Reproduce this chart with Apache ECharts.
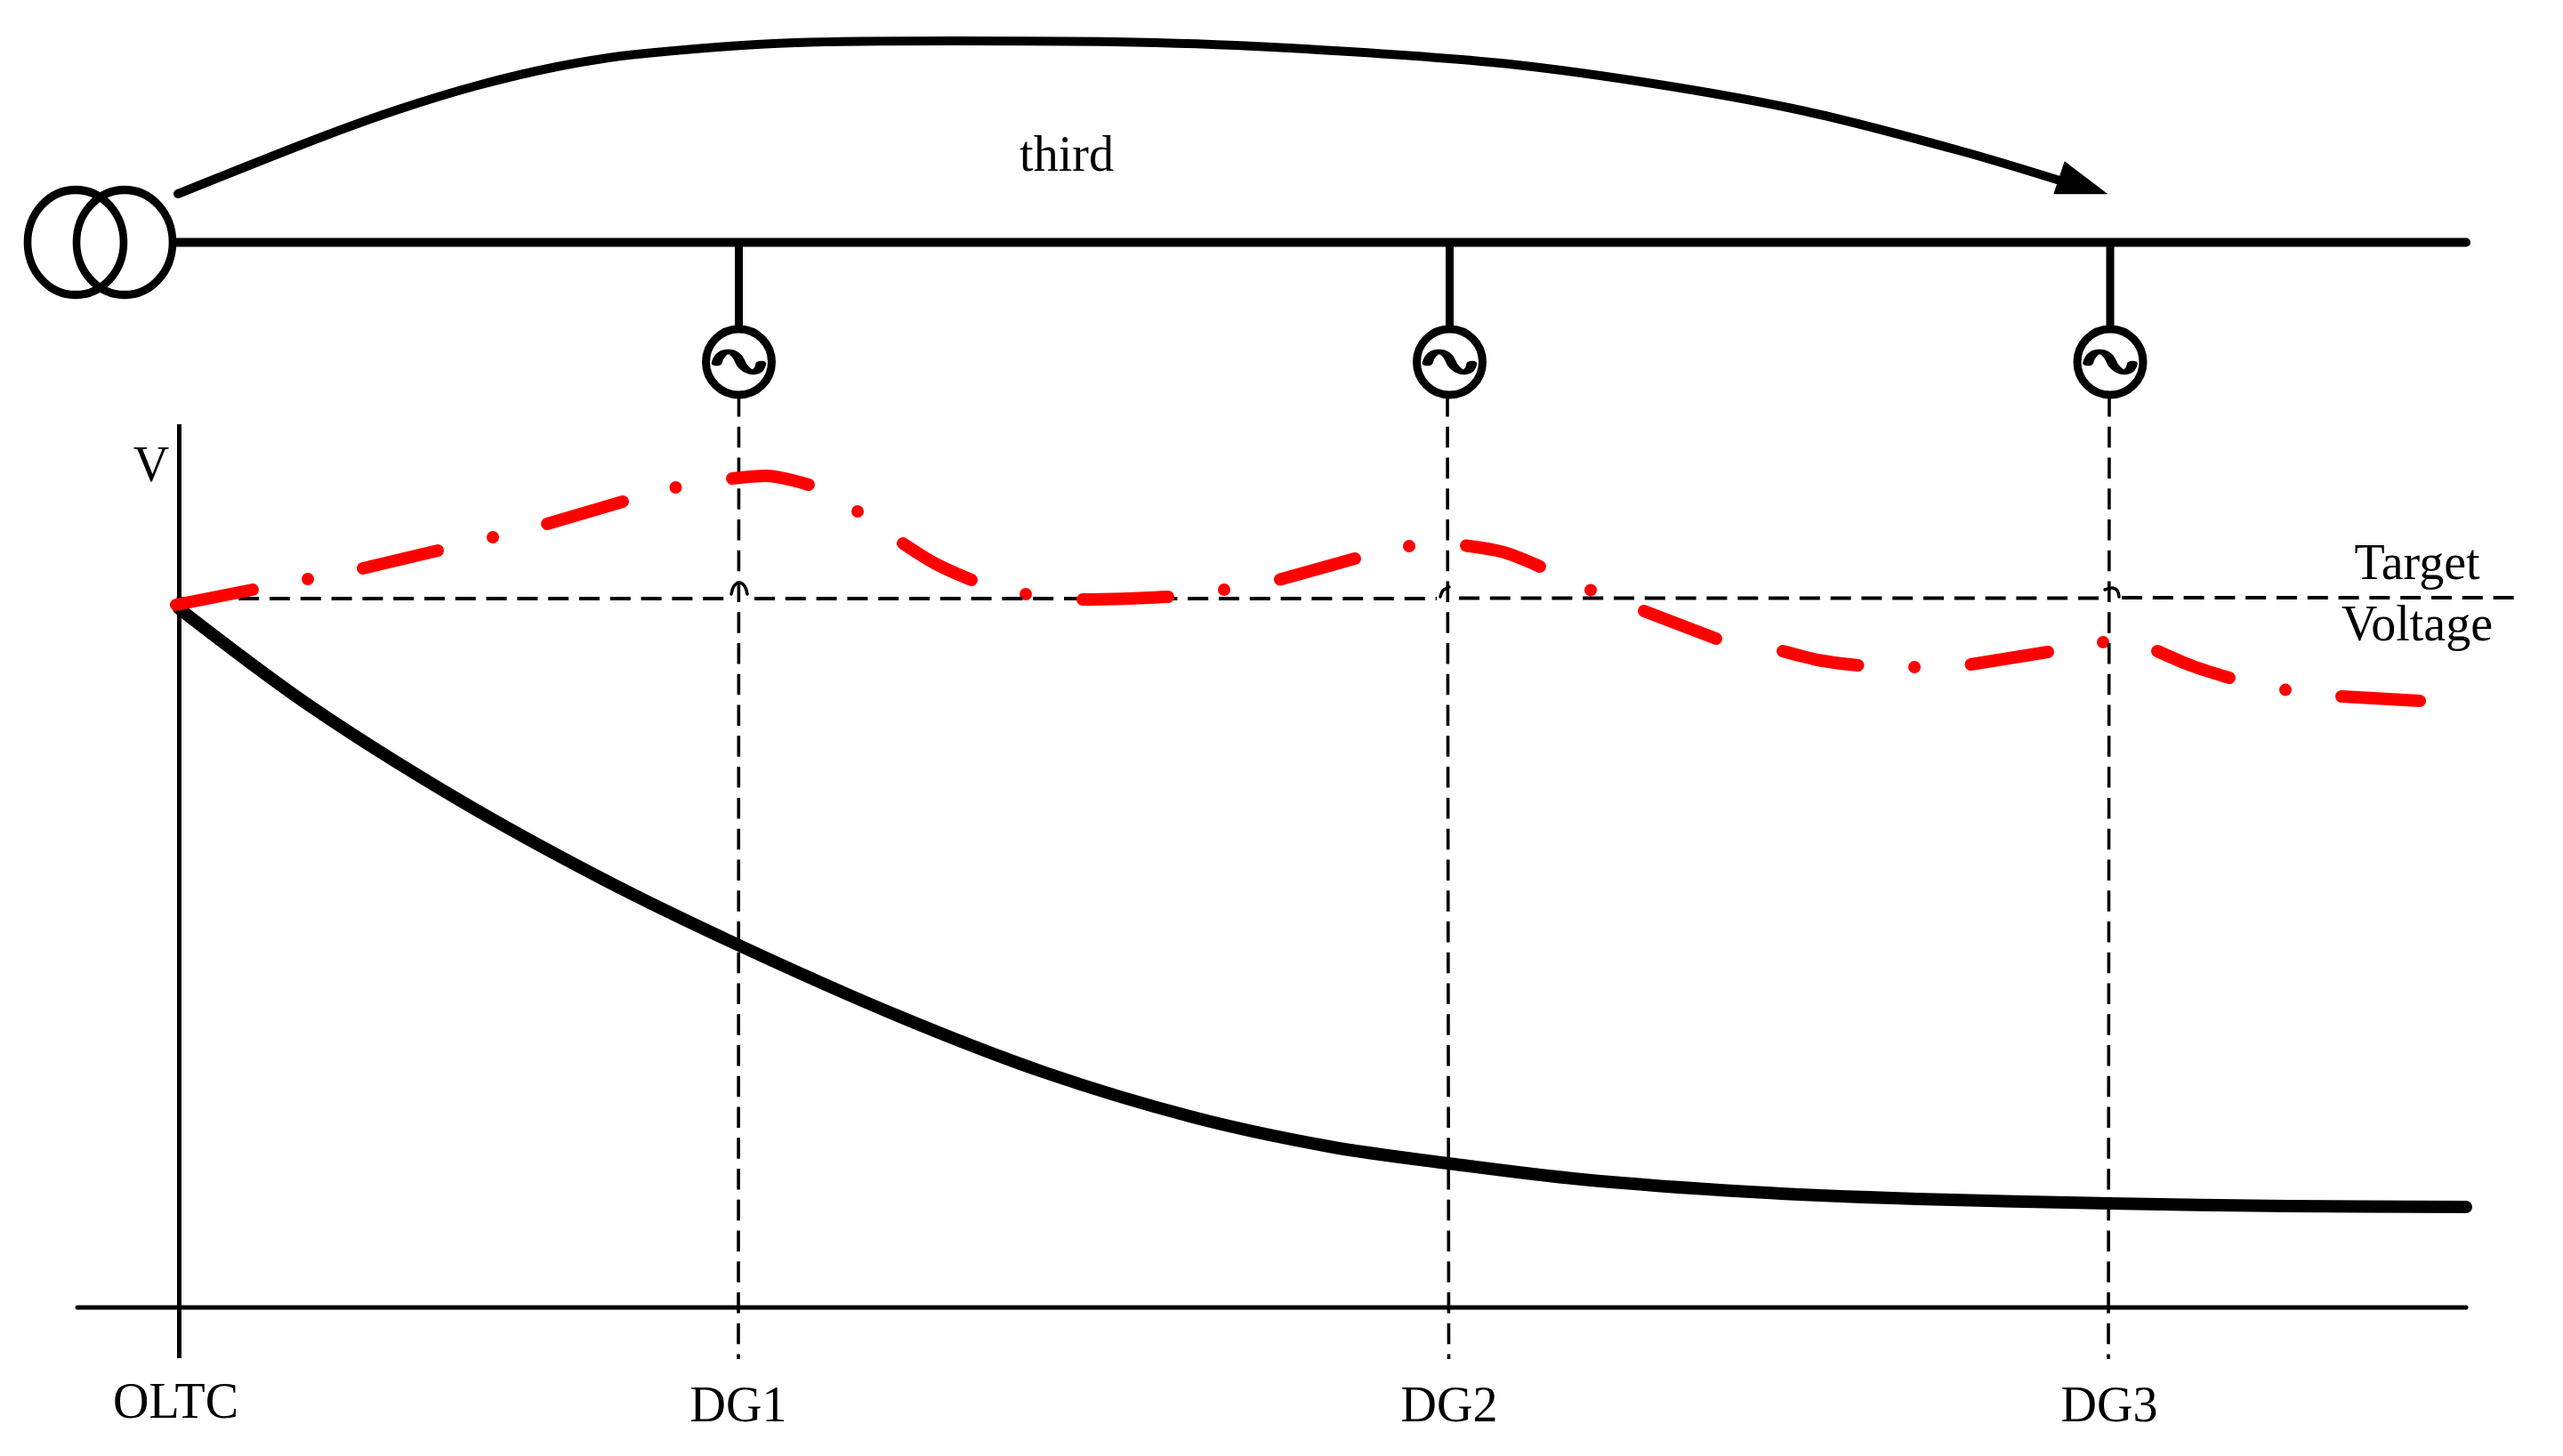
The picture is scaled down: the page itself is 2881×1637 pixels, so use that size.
<!DOCTYPE html>
<html>
<head>
<meta charset="utf-8">
<title>OLTC voltage profile</title>
<style>
  html, body { margin: 0; padding: 0; background: #fff; }
  #chart { width: 2881px; height: 1637px; }
</style>
<script src="https://cdn.jsdelivr.net/npm/echarts@6/dist/echarts.min.js"></script>
</head>
<body>
<div id="chart"></div>
<script>
var flowArc = [[200, 218], [359, 155], [448, 123], [537, 96], [626, 75], [716, 61], [894, 48],
  [1073, 46], [1251, 47], [1430, 53], [1676, 70], [1852, 93], [2029, 125], [2205, 170], [2325, 206]];
var arrowTip = [2342, 209];
var busLine = [[199, 272.5], [2772, 272.5]];
var dgStubs = [
  [[830.5, 272], [830.5, 368]],
  [[1629.5, 272], [1629.5, 368]],
  [[2372, 272], [2372, 368]]
];
var transformerCoils = [[85, 272.5], [140, 272.5]];
var dgCentres = [[830.5, 407], [1629.5, 407], [2372, 407]];

var vAxisLine = [[201.5, 477], [201.5, 1527]];
var feederAxisLine = [[87, 1470], [2772, 1470]];
var dgGuides = [
  [[830.5, 445], [830, 1528]],
  [[1627, 445], [1628.5, 1528]],
  [[2371, 445], [2370, 1528]]
];
var targetLine = [
  [[198.6, 673], [815, 673]],
  [[848, 673], [1615, 673]],
  [[1640, 672.5], [2362, 672.5]],
  [[2385, 672], [2830, 672]]
];
var guideHops = [
  [[822, 668], [825, 659], [831, 655], [837, 659], [840, 668]],
  [[1619, 671], [1622, 664], [1629, 660]],
  [[2366, 663], [2374, 661], [2380, 664], [2382, 671]]
];

// voltage without DG
var voltageBase = [[201, 684], [346, 792], [512, 897], [677, 988], [831, 1063],
  [1009, 1142], [1175, 1206], [1341, 1256], [1494, 1289],
  [1628, 1308], [1778, 1326], [1967, 1340], [2155, 1348], [2371, 1353], [2571, 1356], [2772, 1357]];

// voltage with DG, dash-dot: each dash and each dot as read
var voltageDashes = [
  [[198, 680], [284, 663]],
  [[408, 639], [492, 619]],
  [[615, 589], [700, 564]],
  [[823, 538], [861, 535], [909, 545]],
  [[1015, 611], [1052, 634], [1092, 652]],
  [[1217, 674], [1266, 673], [1313, 671]],
  [[1439, 651.5], [1523, 628]],
  [[1648, 613.5], [1689, 620.6], [1731, 637]],
  [[1848, 687], [1929, 718]],
  [[2004, 732], [2046, 742.5], [2088.5, 748]],
  [[2215.4, 747], [2302, 733]],
  [[2425, 732], [2465, 749], [2506, 762]],
  [[2632, 783], [2720, 788]]
];
var voltageDots = [[346, 651], [554, 604], [759.5, 548], [964, 575], [1153, 668], [1376, 663], [1584, 614], [1788, 663.4],
  [2152, 750], [2364, 722], [2569, 775.6]];

var labelNames = ['third', 'V', 'Target', 'Voltage', 'OLTC', 'DG1', 'DG2', 'DG3'];
var labelSpots = [[1199, 177], [170, 526], [2717, 636], [2717, 705], [197.5, 1579], [830, 1583], [1629, 1583], [2371, 1583]];

var ink = '#000000';
var red = '#ff0000';
var serif = '"Liberation Serif", "Times New Roman", serif';

function joinSegments(segments) {
  var out = [];
  segments.forEach(function(seg, i) {
    if (i > 0) out.push(['-', '-']);
    out = out.concat(seg);
  });
  return out;
}

function lineSeries(data, width, color, extra) {
  var s = {
    type: 'line',
    data: data,
    symbol: 'none',
    silent: true,
    animation: false,
    lineStyle: { width: width, color: color, opacity: 1, cap: 'round', join: 'round' }
  };
  for (var k in extra) {
    if (k === 'dash') s.lineStyle.type = extra[k];
    else if (k === 'cap') s.lineStyle.cap = extra[k];
    else s[k] = extra[k];
  }
  return s;
}

var chart = echarts.init(document.getElementById('chart'), null, { renderer: 'canvas' });

chart.setOption({
  animation: false,
  backgroundColor: '#ffffff',
  tooltip: { show: false },
  grid: { left: 0, right: 0, top: 0, bottom: 0 },
  xAxis: { type: 'value', min: 0, max: 2881, show: false },
  yAxis: { type: 'value', min: 0, max: 1637, inverse: true, show: false },
  series: [
    lineSeries(joinSegments(dgGuides), 3.6, ink, { dash: [23.5, 11.26], cap: 'butt' }),
    lineSeries(joinSegments(targetLine), 4, ink, { dash: [23, 11.8], cap: 'butt' }),
    lineSeries(joinSegments(guideHops), 3.5, ink, { smooth: 0.33 }),
    lineSeries(vAxisLine, 5, ink, { cap: 'butt' }),
    lineSeries(feederAxisLine, 5, ink, {}),
    lineSeries(busLine, 10, ink, {}),
    lineSeries(joinSegments(dgStubs), 9, ink, { cap: 'butt' }),
    lineSeries(flowArc, 10, ink, { smooth: 0.33 }),
    lineSeries(voltageBase, 14, ink, { smooth: 0.33 }),
    lineSeries(joinSegments(voltageDashes), 14, red, { smooth: 0.33 }),
    {
      type: 'scatter',
      data: voltageDots,
      symbol: 'circle',
      symbolSize: 14,
      silent: true,
      itemStyle: { color: red, opacity: 1 }
    },
    {
      type: 'scatter',
      data: [arrowTip],
      symbol: 'triangle',
      symbolSize: [39, 58],
      symbolRotate: -108.6,
      silent: true,
      itemStyle: { color: ink, opacity: 1 }
    },
    {
      type: 'scatter',
      data: transformerCoils,
      symbol: 'circle',
      symbolSize: [108, 118],
      silent: true,
      itemStyle: { color: 'transparent', borderColor: ink, borderWidth: 9, opacity: 1 }
    },
    {
      type: 'scatter',
      data: dgCentres,
      symbol: 'circle',
      symbolSize: 74,
      silent: true,
      itemStyle: { color: '#ffffff', borderColor: ink, borderWidth: 9, opacity: 1 }
    },
    {
      type: 'scatter',
      data: dgCentres,
      symbol: 'path://M0,20 C5,-5 25,-5 32,15 C38,35 58,45 62,20',
      symbolSize: [50, 23],
      silent: true,
      z: 5,
      itemStyle: { color: 'transparent', borderColor: ink, borderWidth: 8, borderCap: 'round', opacity: 1 }
    },
    {
      type: 'scatter',
      data: labelSpots.map(function(p, i) { return { value: p, name: labelNames[i] }; }),
      symbolSize: 1,
      silent: true,
      itemStyle: { color: 'transparent', opacity: 1 },
      label: {
        show: true,
        position: 'inside',
        formatter: '{b}',
        color: ink,
        opacity: 1,
        fontFamily: serif,
        fontSize: 56
      }
    }
  ]
});

window.addEventListener('resize', function() { chart.resize(); });
</script>
</body>
</html>
